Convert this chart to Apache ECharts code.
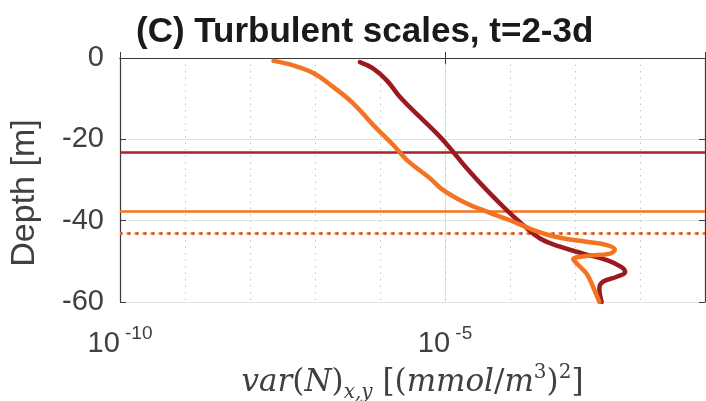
<!DOCTYPE html>
<html>
<head>
<meta charset="utf-8">
<script src="https://cdn.jsdelivr.net/npm/echarts@6/dist/echarts.min.js"></script>
<style>
  html, body { margin: 0; padding: 0; background: #fff; }
  #chart { width: 706px; height: 401px; }
</style>
</head>
<body>
<div id="chart"></div>
<script>
// Profiles: depth [m] and variance [(mmol/m^3)^2]
const depthRed = [-1.0, -2.6, -5.5, -9.6, -14.5, -19.4, -23.1, -27.1, -32.5, -37.4,
  -41.1, -44.4, -46.4, -48.1, -49.7, -51.4, -52.6, -53.8, -55.0, -56.7, -60];
const varRed = [4.9e-7, 7.9e-7, 1.27e-6, 2.03e-6, 4.1e-6, 8.4e-6, 1.34e-5, 2.16e-5, 4.4e-5, 8.9e-5,
  1.6e-4, 2.9e-4, 5.9e-4, 1.34e-3, 3.1e-3, 5.2e-3, 5.9e-3, 4.4e-3, 2.7e-3, 2.37e-3, 2.57e-3];

const depthOrange = [-0.7, -1.8, -3.7, -7.1, -11.2, -16.5, -21.4, -25.1, -29.6, -32.5,
  -35.8, -37.8, -39.9, -42.3, -44.0, -45.2, -46.0, -47.1, -48.1, -48.7, -49.5, -50.5,
  -53.0, -56.3, -60];
const varOrange = [2.3e-8, 4.6e-8, 9.4e-8, 1.9e-7, 3.9e-7, 7.9e-7, 1.6e-6, 2.6e-6, 5.9e-6, 9.4e-6,
  2.16e-5, 4.4e-5, 1.0e-4, 2.3e-4, 5.2e-4, 1.5e-3, 3.1e-3, 4.1e-3, 3.45e-3, 1.5e-3, 9.4e-4, 1.06e-3,
  1.5e-3, 1.9e-3, 2.37e-3];

// horizontal reference depths
const mldRed = -23.1;
const mldOrange = -37.8;
const dottedDepth = -43.1;

const xMin = 1e-10;
const xMax = 1e-1;
const labelledExponents = [-10, -5];

const RED = "#9a1b1f";
const ORANGE = "#f37321";
const AXIS = "#3a3a3a";
const TEXT = "#404040";
const FONT = "'Liberation Sans', Arial, Helvetica, sans-serif";
const SERIF = "'DejaVu Serif', 'Liberation Serif', serif";

function pairs(xs, ys) {
  return xs.map((x, i) => [x, ys[i]]);
}

function hLine(depth, color, type, width, offset) {
  return {
    silent: true,
    symbol: "none",
    label: { show: false },
    lineStyle: { color, type, width, dashOffset: offset || 0 },
    data: [{ yAxis: depth }],
  };
}

const chart = echarts.init(document.getElementById("chart"), null, { renderer: "canvas" });

const option = {
  animation: false,
  title: {
    text: "(C) Turbulent scales, t=2-3d",
    left: 131,
    top: 10,
    textStyle: { fontFamily: FONT, fontSize: 35, fontWeight: "bold", color: "#1a1a1a" },
  },
  grid: { left: 120, right: 1, top: 58, bottom: 99, outerBoundsMode: "none", containLabel: false },
  xAxis: [
    {
      type: "log",
      logBase: 10,
      min: xMin,
      max: xMax,
      position: "bottom",
      axisLine: { show: true, lineStyle: { color: AXIS, width: 1.2 } },
      axisTick: { show: false },
      splitLine: { show: false },
      axisLabel: {
        margin: 22,
        showMinLabel: true,
        showMaxLabel: true,
        formatter: (v) => {
          const e = Math.round(Math.log10(v));
          return labelledExponents.includes(e) ? `{b|10}{s| ${e}}` : "";
        },
        rich: {
          b: { fontFamily: FONT, fontSize: 29, color: TEXT, lineHeight: 34, verticalAlign: "bottom" },
          s: { fontFamily: FONT, fontSize: 19, color: TEXT, lineHeight: 19, verticalAlign: "top" },
        },
      },
      name: "{i|var}{r|(}{i|N}{r|)}{sub|x,y}{r| [(}{i|mmol}{r|/}{i|m}{sup|3}{r|)}{sup|2}{r|]}",
      nameLocation: "middle",
      nameGap: 60,
      nameTextStyle: {
        rich: {
          i: { fontFamily: SERIF, fontStyle: "italic", fontSize: 31, color: TEXT, lineHeight: 36, verticalAlign: "bottom" },
          r: { fontFamily: SERIF, fontSize: 31, color: TEXT, lineHeight: 36, verticalAlign: "bottom" },
          sub: { fontFamily: SERIF, fontStyle: "italic", fontSize: 20, color: TEXT, lineHeight: 20, verticalAlign: "bottom", padding: [0, 0, -4, 0] },
          sup: { fontFamily: SERIF, fontSize: 20, color: TEXT, lineHeight: 20, verticalAlign: "top" },
        },
      },
    },
    {
      // major grid + bottom ticks
      type: "value",
      min: -10,
      max: -1,
      interval: 5,
      position: "bottom",
      axisLine: { show: false },
      axisLabel: { show: false },
      axisTick: { show: true, inside: true, length: 6, lineStyle: { color: AXIS } },
      splitLine: { show: true, lineStyle: { color: "#e4e4e4", width: 1.2 } },
    },
    {
      // box top with ticks
      type: "value",
      min: -10,
      max: -1,
      interval: 5,
      position: "top",
      axisLine: { show: true, onZero: false, lineStyle: { color: AXIS, width: 1.2 } },
      axisLabel: { show: false },
      axisTick: { show: true, inside: true, length: 6, lineStyle: { color: AXIS } },
      splitLine: { show: false },
    },
    {
      // minor dotted grid every decade
      type: "value",
      min: -10,
      max: -1,
      interval: 1,
      position: "bottom",
      axisLine: { show: false },
      axisLabel: { show: false },
      axisTick: { show: false },
      splitLine: { show: true, lineStyle: { color: "#c4c4c4", type: [1.5, 5], width: 1 } },
    },
  ],
  yAxis: [
    {
      type: "value",
      min: -60,
      max: 0,
      interval: 20,
      position: "left",
      axisLine: { show: true, onZero: false, lineStyle: { color: AXIS, width: 1.2 } },
      axisTick: { show: true, inside: true, length: 6, lineStyle: { color: AXIS } },
      axisLabel: { fontFamily: FONT, fontSize: 29, color: TEXT, margin: 16 },
      splitLine: { show: true, lineStyle: { color: "#e4e4e4", width: 1.2 } },
      name: "Depth [m]",
      nameLocation: "middle",
      nameGap: 78,
      nameTextStyle: { fontFamily: FONT, fontSize: 34, color: TEXT, padding: [0, 26, 0, 0] },
    },
    {
      type: "value",
      min: -60,
      max: 0,
      interval: 20,
      position: "right",
      axisLine: { show: true, onZero: false, lineStyle: { color: AXIS, width: 1.2 } },
      axisTick: { show: true, inside: true, length: 6, lineStyle: { color: AXIS } },
      axisLabel: { show: false },
      splitLine: { show: false },
    },
  ],
  series: [
    {
      name: "levels",
      type: "line",
      data: [],
      markLine: hLine(mldRed, "#a8232a", "solid", 2.5),
    },
    {
      name: "levels2",
      type: "line",
      data: [],
      markLine: hLine(mldOrange, ORANGE, "solid", 2.5),
    },
    {
      name: "dotRed",
      type: "line",
      data: [],
      markLine: hLine(dottedDepth, "#b52a22", [2.5, 5.5], 2.5, 0),
    },
    {
      name: "dotOrange",
      type: "line",
      data: [],
      markLine: hLine(dottedDepth, ORANGE, [2.5, 5.5], 2.5, 1.5),
    },
    {
      name: "t=2-3d dark",
      type: "line",
      data: pairs(varRed, depthRed),
      smooth: 0.4,
      showSymbol: false,
      lineStyle: { color: RED, width: 4.5, cap: "round", join: "round" },
      z: 5,
    },
    {
      name: "t=2-3d orange",
      type: "line",
      data: pairs(varOrange, depthOrange),
      smooth: 0.4,
      showSymbol: false,
      lineStyle: { color: ORANGE, width: 4.5, cap: "round", join: "round" },
      z: 6,
    },
  ],
};

chart.setOption(option);
</script>
</body>
</html>
